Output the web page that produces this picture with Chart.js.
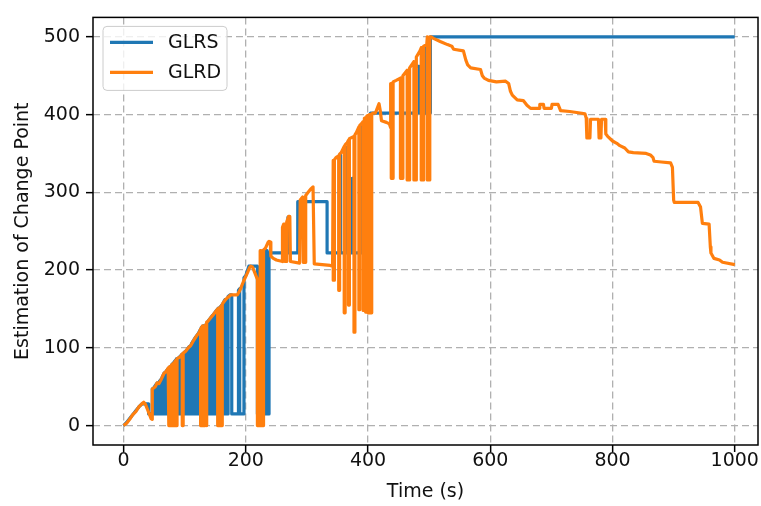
<!DOCTYPE html>
<html>
<head>
<meta charset="utf-8">
<title>Estimation of Change Point</title>
<script src="https://cdn.jsdelivr.net/npm/chart.js@4.4.1/dist/chart.umd.min.js"></script>
<style>
    html, body { margin: 0; padding: 0; background: #fff; }
    #wrap { width: 761px; height: 506px; }
</style>
</head>
<body>
<div id="wrap"><canvas id="changeChart" width="761" height="506"></canvas></div>
<script>
// Change point estimates over time, [time (s), estimate]
const seriesNames = ['GLRS', 'GLRD'];
const seriesColors = ['#1f77b4', '#ff7f0e'];

const xTicks = [0, 200, 400, 600, 800, 1000];
const yTicks = [0, 100, 200, 300, 400, 500];

const glrsPoints = [
    [0, 0], [5, 4], [10, 9], [15, 14], [20, 19], [25, 24], [30, 28], [41, 28], [41, 15],
    [47, 15], [47, 47], [50, 49], [50, 15], [51, 15], [51, 50], [54, 54], [54, 15], [55, 15],
    [55, 55], [58, 55], [58, 15], [59, 15], [59, 57], [62, 60], [62, 15], [63, 15], [63, 62],
    [66, 67], [66, 15], [67, 15], [67, 68], [70, 70], [70, 15], [71, 15], [71, 71], [74, 74],
    [74, 15], [75, 15], [75, 75], [78, 77], [78, 15], [79, 15], [79, 78], [82, 81], [82, 15],
    [83, 15], [83, 82], [86, 85], [86, 15], [87, 15], [87, 86], [90, 87], [90, 15], [91, 15],
    [91, 88], [94, 90], [94, 15], [95, 15], [95, 91], [98, 93], [98, 15], [99, 15], [99, 94],
    [102, 96], [102, 15], [103, 15], [103, 97], [106, 100], [106, 15], [107, 15], [107, 101],
    [110, 103], [110, 15], [111, 15], [111, 105], [114, 109], [114, 15], [115, 15], [115, 110],
    [118, 114], [118, 15], [119, 15], [119, 115], [122, 118], [122, 15], [123, 15], [123, 119],
    [126, 124], [126, 15], [127, 15], [127, 126], [130, 128], [130, 15], [131, 15], [131, 128],
    [134, 129], [134, 15], [135, 15], [135, 130], [138, 134], [138, 15], [139, 15], [139, 135],
    [142, 138], [142, 15], [143, 15], [143, 139], [146, 142], [146, 15], [147, 15], [147, 143],
    [150, 146], [150, 15], [151, 15], [151, 147], [154, 150], [154, 15], [155, 15], [155, 151],
    [158, 152], [158, 15], [159, 15], [159, 153], [162, 156], [162, 15], [163, 15], [163, 158],
    [166, 162], [166, 15],
    [171, 15], [171, 166], [174, 168], [177, 168], [177, 15], [188, 15], [188, 174], [190, 176],
    [190, 15], [197, 15], [197, 190], [200, 193], [203, 200], [205, 205], [219, 205], [219, 15],
    [232, 15], [232, 225], [235, 225], [235, 15], [238, 15], [238, 222],
    [262, 222], [262, 258], [264, 258], [264, 222], [269, 222], [269, 268], [271, 268], [271, 222],
    [285, 222], [285, 288], [333, 288], [333, 222], [353, 222], [353, 348], [355, 348], [355, 222],
    [362, 222], [362, 358], [364, 358], [364, 222], [374, 222], [374, 318], [376, 318], [376, 222],
    [387, 222], [387, 384], [389, 386], [389, 222], [404, 222], [404, 402],
    [477, 402], [477, 462], [484, 462], [484, 402], [494, 402], [494, 488], [498, 488], [498, 402],
    [502, 402], [502, 500], [1000, 500]
];

const glrdPoints = [
    [0, 0], [5, 3], [10, 8], [15, 14], [20, 18], [25, 24], [30, 28], [33, 30], [36, 27], [39, 21],
    [42, 15], [45, 9], [47, 8], [47, 47], [52, 50], [55, 55], [58, 54], [62, 60], [66, 67], [70, 70],
    [73, 74], [74, 74], [74, 0], [75.5, 0], [75.5, 76], [77, 76], [77, 0], [78.5, 0], [78.5, 78],
    [80, 79], [80, 0], [81.5, 0], [81.5, 80], [83, 81], [83, 0], [84.5, 0], [84.5, 83], [86, 84],
    [86, 0], [87.5, 0], [87.5, 86], [92, 88], [96, 92], [96, 0], [97.5, 0], [97.5, 93],
    [102, 96], [106, 100], [110, 103], [115, 110], [120, 116], [124, 120],
    [126, 124], [126, 0], [127.5, 0], [127.5, 126], [129, 128], [129, 0], [130.5, 0], [130.5, 128],
    [132, 128], [132, 0], [133.5, 0], [133.5, 129], [135, 130], [135, 0], [136.5, 0], [136.5, 133],
    [138, 134], [142, 138], [147, 143], [152, 148],
    [154, 150], [154, 0], [155.5, 0], [155.5, 151], [157, 151], [157, 0], [158.5, 0], [158.5, 152],
    [160, 154], [160, 0], [161.5, 0], [161.5, 156], [163, 158],
    [168, 163], [175, 168], [186, 168], [189, 172], [192, 177], [196, 185], [200, 192], [203, 197],
    [206, 203], [208, 205], [211, 204], [214, 198], [218, 190],
    [219, 188], [219, 0], [220.5, 0], [220.5, 186], [222, 186], [222, 0], [223.5, 0], [223.5, 225],
    [225, 225], [225, 0], [226.5, 0], [226.5, 225], [228, 225], [228, 0], [229, 0], [229, 226],
    [232, 228], [236, 235], [238, 237], [240, 236], [241, 218], [245, 215], [250, 213], [255, 212],
    [260, 211], [260, 255], [262, 259], [263, 259], [264, 211], [267, 211], [267, 262], [270, 269],
    [272, 269], [273, 211], [288, 209], [289, 290], [293, 294], [294, 210], [297, 210], [298, 296],
    [302, 300], [306, 304], [310, 307], [311, 307], [312, 208], [338, 206], [342, 205],
    [343, 341], [343, 187], [345, 187], [345, 342], [348, 345],
    [352, 347], [352, 174], [353.5, 174], [353.5, 349], [356, 351],
    [361, 359], [361, 145], [362.5, 145], [362.5, 361], [366, 364],
    [368, 367], [368, 155], [369.5, 155], [369.5, 369], [372, 370],
    [377, 372], [377, 120], [378.5, 120], [378.5, 374], [381, 377],
    [385, 384], [385, 149], [386.5, 149], [386.5, 386], [389, 388],
    [392, 391], [392, 148], [394, 148], [394, 395], [396, 396], [396, 146], [398, 146], [398, 398],
    [400, 399], [400, 145], [402, 145], [402, 400], [404, 400], [404, 145], [406, 145], [406, 401],
    [408, 402],
    [412, 402], [415, 408], [418, 414], [420, 405], [422, 392], [430, 390], [435, 388], [437, 383],
    [437, 440], [438, 440], [438, 318], [441, 318], [441, 442], [446, 444], [453, 447], [453, 318],
    [457, 318], [457, 450], [464, 457], [464, 316], [468, 316], [468, 460], [475, 468], [475, 316],
    [479, 316], [479, 474], [485, 482], [487, 486], [487, 316], [491, 316], [491, 488], [496, 490],
    [497, 500], [497, 316], [501, 316], [501, 500], [503, 500],
    [507, 498], [518, 494], [530, 490], [537, 488], [540, 484], [556, 482], [560, 470], [563, 464],
    [568, 460], [584, 458], [587, 450], [590, 447], [597, 444], [610, 442], [625, 443], [630, 440],
    [633, 430], [636, 425], [644, 419], [654, 418], [660, 412], [666, 408], [680, 408], [681, 413],
    [687, 413], [688, 408], [700, 408], [701, 413], [711, 413], [715, 405], [730, 404], [747, 402],
    [755, 401], [757, 395], [758, 370], [763, 370], [764, 394], [777, 394], [778, 370], [781, 370],
    [782, 394], [788, 394], [789, 375], [792, 372], [800, 366], [807, 363], [812, 360], [820, 357],
    [826, 352], [834, 351], [855, 350], [862, 348], [866, 345], [868, 340], [880, 339], [895, 338],
    [898, 332], [900, 290], [901, 287], [940, 287], [944, 281], [947, 260], [958, 259], [960, 230],
    [961, 222], [966, 215], [975, 213], [980, 210], [1000, 207]
];

const FONT = 'DejaVu Sans';
const LINE_WIDTH = 3.2;

// Legend box drawn inside the plot, upper left
const insideLegend = {
    id: 'insideLegend',
    afterDatasetsDraw(chart) {
        const { ctx, chartArea } = chart;
        const x = chartArea.left + 10, y = chartArea.top + 9;
        const w = 124, h = 64;
        ctx.save();
        ctx.beginPath();
        ctx.roundRect(x, y, w, h, 4);
        ctx.fillStyle = 'rgba(255,255,255,0.8)';
        ctx.fill();
        ctx.strokeStyle = '#cccccc';
        ctx.lineWidth = 1;
        ctx.stroke();
        ctx.font = '19px "' + FONT + '"';
        ctx.textBaseline = 'middle';
        chart.data.datasets.forEach((ds, i) => {
            const rowY = y + 16 + i * 30;
            ctx.beginPath();
            ctx.moveTo(x + 7, rowY);
            ctx.lineTo(x + 50, rowY);
            ctx.strokeStyle = ds.borderColor;
            ctx.lineWidth = LINE_WIDTH;
            ctx.stroke();
            ctx.fillStyle = '#111';
            ctx.fillText(ds.label, x + 65, rowY + 1);
        });
        ctx.restore();
    }
};

// Black frame around the plot area
const plotFrame = {
    id: 'plotFrame',
    afterDraw(chart) {
        const { ctx, chartArea: a } = chart;
        ctx.save();
        ctx.strokeStyle = '#000';
        ctx.lineWidth = 1.5;
        ctx.strokeRect(a.left, a.top, a.right - a.left, a.bottom - a.top);
        ctx.restore();
    }
};

const gridOpts = {
    color: '#b0b0b0',
    lineWidth: 1.3,
    tickLength: 7,
    tickColor: '#000',
    tickWidth: 1.5,
    tickBorderDash: []
};

const ctx = document.getElementById('changeChart').getContext('2d');
new Chart(ctx, {
    type: 'line',
    data: {
        datasets: [
            {
                label: seriesNames[0],
                data: glrsPoints.map(p => ({ x: p[0], y: p[1] })),
                borderColor: seriesColors[0],
                borderWidth: LINE_WIDTH,
                order: 1
            },
            {
                label: seriesNames[1],
                data: glrdPoints.map(p => ({ x: p[0], y: p[1] })),
                borderColor: seriesColors[1],
                borderWidth: LINE_WIDTH,
                order: 0
            }
        ]
    },
    options: {
        responsive: false,
        animation: false,
        devicePixelRatio: 1,
        layout: { padding: { top: 9, right: 3, left: 0, bottom: 0 } },
        elements: {
            point: { radius: 0 },
            line: { tension: 0, borderJoinStyle: 'round', fill: false }
        },
        plugins: {
            legend: { display: false },
            tooltip: { enabled: false }
        },
        scales: {
            x: {
                type: 'linear',
                min: -50,
                max: 1038,
                afterBuildTicks: axis => { axis.ticks = xTicks.map(v => ({ value: v })); },
                afterFit: axis => { axis.height = 61; },
                grid: gridOpts,
                border: { display: false, dash: [7, 4] },
                ticks: {
                    color: '#111',
                    padding: -2,
                    maxRotation: 0,
                    font: { family: FONT, size: 19 },
                    callback: v => String(v)
                },
                title: {
                    display: true,
                    text: 'Time (s)',
                    color: '#111',
                    padding: { top: 0, bottom: 3 },
                    font: { family: FONT, size: 19 }
                }
            },
            y: {
                type: 'linear',
                min: -25,
                max: 525,
                afterBuildTicks: axis => { axis.ticks = yTicks.map(v => ({ value: v })); },
                afterFit: axis => { axis.width = 93; },
                grid: gridOpts,
                border: { display: false, dash: [7, 4] },
                ticks: {
                    color: '#111',
                    padding: 6,
                    font: { family: FONT, size: 19 },
                    callback: v => String(v)
                },
                title: {
                    display: true,
                    text: 'Estimation of Change Point',
                    color: '#111',
                    padding: { top: 12, bottom: 0 },
                    font: { family: FONT, size: 19 }
                }
            }
        }
    },
    plugins: [insideLegend, plotFrame]
});
</script>
</body>
</html>
